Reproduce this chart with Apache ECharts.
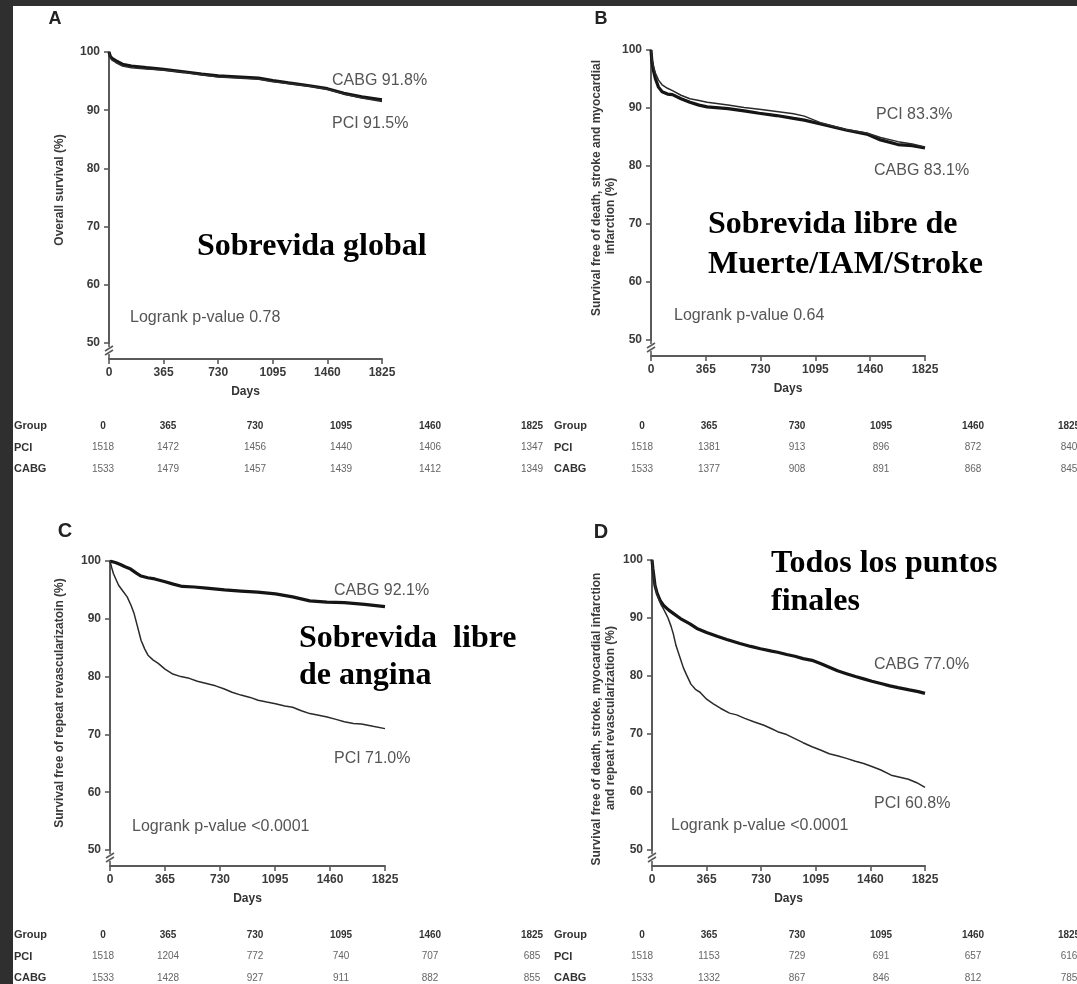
<!DOCTYPE html>
<html>
<head>
<meta charset="utf-8">
<script src="https://cdn.jsdelivr.net/npm/echarts@6/dist/echarts.min.js"></script>
<style>
html,body{margin:0;padding:0;background:#fff;}
#chart{width:1077px;height:984px;}
</style>
</head>
<body>
<div id="chart"></div>
<script>
// Follow-up time points (days) used for axis ticks and number-at-risk columns
const dayTicks = [0, 365, 730, 1095, 1460, 1825];
const yTicks = [50, 60, 70, 80, 90, 100];

// A: overall survival (%), [day, %]
const survA_CABG = [[0,100],[8,99.3],[20,98.9],[45,98.5],[90,97.9],[150,97.6],[250,97.3],[365,97.0],[500,96.6],[620,96.2],[730,95.9],[880,95.7],[1000,95.5],[1095,95.1],[1200,94.7],[1340,94.2],[1460,93.7],[1570,92.9],[1690,92.3],[1825,91.8]];
const survA_PCI  = [[0,100],[8,99.1],[20,98.6],[45,98.2],[90,97.6],[150,97.3],[250,97.1],[365,96.9],[500,96.5],[620,96.1],[730,95.7],[880,95.5],[1000,95.3],[1095,94.9],[1200,94.6],[1340,94.1],[1460,93.6],[1570,92.8],[1690,92.1],[1825,91.5]];

// B: free of death, stroke and myocardial infarction (%)
const survB_CABG = [[0,100],[6,98],[16,96.5],[30,95],[50,93.6],[74,92.8],[110,92.4],[143,92.3],[200,91.6],[259,91.0],[320,90.5],[374,90.2],[513,89.9],[620,89.5],[721,89.1],[836,88.7],[950,88.2],[1021,87.9],[1137,87.2],[1298,86.2],[1437,85.5],[1529,84.5],[1645,83.7],[1740,83.5],[1825,83.1]];
const survB_PCI  = [[0,100],[6,98.5],[16,97.2],[30,96],[50,94.8],[74,94.0],[110,93.4],[143,93.0],[200,92.2],[259,91.6],[320,91.3],[374,91.0],[513,90.5],[620,90.1],[721,89.8],[836,89.4],[950,89.0],[1021,88.6],[1137,87.4],[1298,86.3],[1437,85.7],[1529,84.9],[1645,84.2],[1740,83.8],[1825,83.3]];

// C: free of repeat revascularization (%)
const survC_CABG = [[0,100],[40,99.7],[69,99.4],[100,99.0],[137,98.6],[175,97.9],[206,97.4],[250,97.1],[297,96.9],[366,96.4],[420,96.0],[480,95.6],[560,95.5],[640,95.3],[760,95.0],[869,94.8],[980,94.6],[1098,94.3],[1212,93.8],[1326,93.1],[1440,92.9],[1555,92.8],[1690,92.5],[1825,92.1]];
const survC_PCI  = [[0,100],[12,98.8],[23,97.8],[40,96.8],[57,95.8],[85,94.8],[114,93.8],[140,92.3],[160,90.9],[183,88.6],[206,86.3],[230,84.8],[252,83.7],[285,82.9],[320,82.3],[365,81.3],[412,80.5],[470,80.0],[526,79.7],[580,79.2],[640,78.8],[700,78.4],[755,77.9],[810,77.3],[869,76.8],[930,76.4],[983,75.9],[1040,75.6],[1098,75.3],[1160,74.9],[1212,74.7],[1270,74.1],[1326,73.6],[1385,73.3],[1441,73.0],[1500,72.6],[1555,72.2],[1615,71.9],[1669,71.8],[1745,71.4],[1825,71.0]];

// D: free of all end points (%)
const survD_CABG = [[0,100],[6,98.5],[12,97.3],[20,95.6],[35,94.2],[55,93.0],[76,92.2],[110,91.4],[142,90.8],[190,89.9],[254,89.0],[300,88.2],[365,87.5],[440,86.8],[500,86.3],[588,85.6],[660,85.1],[725,84.7],[800,84.3],[840,84.1],[900,83.7],[955,83.4],[1010,83.0],[1070,82.7],[1130,82.1],[1185,81.5],[1240,80.9],[1300,80.4],[1360,79.9],[1415,79.5],[1470,79.1],[1530,78.7],[1590,78.3],[1645,78.0],[1720,77.6],[1780,77.3],[1825,77.0]];
const survD_PCI  = [[0,100],[6,98.3],[12,97.0],[20,95.6],[35,94.0],[58,92.4],[76,91.6],[92,90.8],[107,90.0],[127,88.6],[142,87.3],[161,85.2],[187,83.2],[210,81.4],[231,80.2],[260,78.6],[290,77.7],[321,77.2],[365,76.0],[410,75.2],[460,74.4],[518,73.6],[566,73.3],[620,72.7],[680,72.1],[748,71.5],[800,70.9],[840,70.4],[900,69.9],[955,69.2],[1010,68.5],[1070,67.8],[1130,67.2],[1185,66.6],[1245,66.2],[1300,65.8],[1360,65.3],[1415,64.9],[1470,64.4],[1530,63.8],[1599,62.9],[1650,62.6],[1714,62.2],[1770,61.6],[1825,60.8]];

// Numbers at risk
const riskA_PCI  = [1518, 1472, 1456, 1440, 1406, 1347];
const riskA_CABG = [1533, 1479, 1457, 1439, 1412, 1349];
const riskB_PCI  = [1518, 1381, 913, 896, 872, 840];
const riskB_CABG = [1533, 1377, 908, 891, 868, 845];
const riskC_PCI  = [1518, 1204, 772, 740, 707, 685];
const riskC_CABG = [1533, 1428, 927, 911, 882, 855];
const riskD_PCI  = [1518, 1153, 729, 691, 657, 616];
const riskD_CABG = [1533, 1332, 867, 846, 812, 785];

// End-of-follow-up labels and log-rank results
const endA = ['CABG 91.8%', 'PCI 91.5%'];
const endB = ['PCI 83.3%', 'CABG 83.1%'];
const endC = ['CABG 92.1%', 'PCI 71.0%'];
const endD = ['CABG 77.0%', 'PCI 60.8%'];
const logrank = ['Logrank p-value 0.78', 'Logrank p-value 0.64', 'Logrank p-value <0.0001', 'Logrank p-value <0.0001'];

const SANS = '"Liberation Sans", Arial, Helvetica, sans-serif';
const SERIF = '"Liberation Serif", "Times New Roman", serif';
const AXIS = '#5a5a5a';
const INK = '#151515';

const panels = [
  { grid: {left: 109, top: 52, width: 273, height: 291}, cabg: survA_CABG, pci: survA_PCI },
  { grid: {left: 651, top: 50, width: 274, height: 290}, cabg: survB_CABG, pci: survB_PCI },
  { grid: {left: 110, top: 561, width: 275, height: 289}, cabg: survC_CABG, pci: survC_PCI },
  { grid: {left: 652, top: 560, width: 273, height: 290}, cabg: survD_CABG, pci: survD_PCI }
];

const grids = [], xAxes = [], yAxes = [], series = [];

// Broken-axis glyph drawn just below the 50% tick, down to the offset x axis
function breakMark(params, api) {
  const p = api.coord([0, 50]);
  const x = p[0], y = p[1];
  const st = {stroke: AXIS, lineWidth: 1.6, fill: null};
  return {
    type: 'group',
    children: [
      {type: 'line', shape: {x1: x, y1: y, x2: x, y2: y + 4}, style: st},
      {type: 'line', shape: {x1: x - 4, y1: y + 8, x2: x + 4, y2: y + 3}, style: st},
      {type: 'line', shape: {x1: x - 4, y1: y + 12, x2: x + 4, y2: y + 7}, style: st},
      {type: 'line', shape: {x1: x, y1: y + 11, x2: x, y2: y + 16}, style: st}
    ]
  };
}

const plain = function (v) { return String(v); };

panels.forEach(function (pn, i) {
  grids.push(Object.assign({containLabel: false}, pn.grid));
  xAxes.push({
    gridIndex: i, type: 'value', min: 0, max: 1825, interval: 365, offset: 16,
    name: 'Days', nameLocation: 'middle', nameGap: 27,
    nameTextStyle: {fontFamily: SANS, fontWeight: 'bold', fontSize: 12, color: '#333'},
    axisLine: {show: true, lineStyle: {color: AXIS, width: 2}},
    axisTick: {show: true, length: 5, lineStyle: {color: AXIS, width: 1.6}},
    axisLabel: {fontFamily: SANS, fontWeight: 'bold', fontSize: 12, color: '#3a3a3a', margin: 8, formatter: plain},
    splitLine: {show: false}
  });
  yAxes.push({
    gridIndex: i, type: 'value', min: 50, max: 100, interval: 10,
    axisLine: {show: true, lineStyle: {color: AXIS, width: 2}},
    axisTick: {show: true, length: 5, lineStyle: {color: AXIS, width: 1.6}},
    axisLabel: {fontFamily: SANS, fontWeight: 'bold', fontSize: 12, color: '#3a3a3a', margin: 9, formatter: plain},
    splitLine: {show: false}
  });
  series.push({
    name: 'CABG', type: 'line', xAxisIndex: i, yAxisIndex: i, data: pn.cabg,
    showSymbol: false, symbol: 'none', z: 3,
    lineStyle: {color: INK, width: 3.2}
  });
  series.push({
    name: 'PCI', type: 'line', xAxisIndex: i, yAxisIndex: i, data: pn.pci,
    showSymbol: false, symbol: 'none', z: 4,
    lineStyle: {color: '#2a2a2a', width: 1.5}
  });
  series.push({
    type: 'custom', xAxisIndex: i, yAxisIndex: i, data: [[0, 50]],
    renderItem: breakMark, silent: true, clip: false, z: 5
  });
});

const graphics = [];

// Dark frame strips on the left and top edges
graphics.push({type: 'rect', shape: {x: 0, y: 0, width: 13, height: 984}, style: {fill: '#2f2f2f'}, z: 10});
graphics.push({type: 'rect', shape: {x: 0, y: 0, width: 1077, height: 6}, style: {fill: '#2f2f2f'}, z: 10});

function txt(x, y, text, opt) {
  const o = opt || {};
  graphics.push({
    type: 'text', x: x, y: y, rotation: o.rotation || 0, z: 20,
    style: {
      text: text,
      fontFamily: o.family || SANS,
      fontSize: o.size || 12,
      fontWeight: o.weight || 'normal',
      fill: o.color || '#333',
      align: o.align || 'left',
      verticalAlign: 'middle'
    }
  });
}

// Panel letters
txt(55, 19, 'A', {size: 18, weight: 'bold', color: '#222', align: 'center'});
txt(601, 19, 'B', {size: 18, weight: 'bold', color: '#222', align: 'center'});
txt(65, 531, 'C', {size: 20, weight: 'bold', color: '#222', align: 'center'});
txt(601, 532, 'D', {size: 20, weight: 'bold', color: '#222', align: 'center'});

// Y axis titles (rotated)
const R = Math.PI / 2;
const yName = {rotation: R, size: 12, weight: 'bold', color: '#3a3a3a', align: 'center'};
txt(60, 190, 'Overall survival (%)', yName);
txt(597, 188, 'Survival free of death, stroke and myocardial', yName);
txt(611, 216, 'infarction (%)', yName);
txt(60, 703, 'Survival free of repeat revascularizatoin (%)', yName);
txt(597, 719, 'Survival free of death, stroke, myocardial infarction', yName);
txt(611, 718, 'and repeat revascularization (%)', yName);

// Curve end labels and log-rank notes
const note = {size: 16, color: '#555'};
txt(332, 81, endA[0], note);
txt(332, 124, endA[1], note);
txt(130, 318, logrank[0], note);
txt(876, 115, endB[0], note);
txt(874, 171, endB[1], note);
txt(674, 316, logrank[1], note);
txt(334, 591, endC[0], note);
txt(334, 759, endC[1], note);
txt(132, 827, logrank[2], note);
txt(874, 665, endD[0], note);
txt(874, 804, endD[1], note);
txt(671, 826, logrank[3], note);

// Spanish panel titles
const head = {family: SERIF, size: 32, weight: 'bold', color: '#000'};
txt(197, 247, 'Sobrevida global', head);
txt(708, 225, 'Sobrevida libre de', head);
txt(708, 265, 'Muerte/IAM/Stroke', head);
txt(299, 639, 'Sobrevida  libre', head);
txt(299, 676, 'de angina', head);
txt(771, 564, 'Todos los puntos', head);
txt(771, 602, 'finales', head);

// Number-at-risk tables
const colsLeft = [103, 168, 255, 341, 430, 532];
const colsRight = [642, 709, 797, 881, 973, 1069];
function riskTable(x0, cols, y0, pci, cabg) {
  const rowGap = 21.5;
  txt(x0, y0, 'Group', {size: 11, weight: 'bold', color: '#333'});
  txt(x0, y0 + rowGap, 'PCI', {size: 11, weight: 'bold', color: '#333'});
  txt(x0, y0 + 2 * rowGap, 'CABG', {size: 11, weight: 'bold', color: '#333'});
  cols.forEach(function (cx, k) {
    txt(cx, y0, String(dayTicks[k]), {size: 10, weight: 'bold', color: '#333', align: 'center'});
    txt(cx, y0 + rowGap, String(pci[k]), {size: 10, color: '#666', align: 'center'});
    txt(cx, y0 + 2 * rowGap, String(cabg[k]), {size: 10, color: '#666', align: 'center'});
  });
}
riskTable(14, colsLeft, 426, riskA_PCI, riskA_CABG);
riskTable(554, colsRight, 426, riskB_PCI, riskB_CABG);
riskTable(14, colsLeft, 935, riskC_PCI, riskC_CABG);
riskTable(554, colsRight, 935, riskD_PCI, riskD_CABG);

const chart = echarts.init(document.getElementById('chart'), null, {renderer: 'canvas'});
chart.setOption({
  animation: false,
  backgroundColor: '#ffffff',
  grid: grids,
  xAxis: xAxes,
  yAxis: yAxes,
  series: series,
  graphic: graphics
});
</script>
</body>
</html>
